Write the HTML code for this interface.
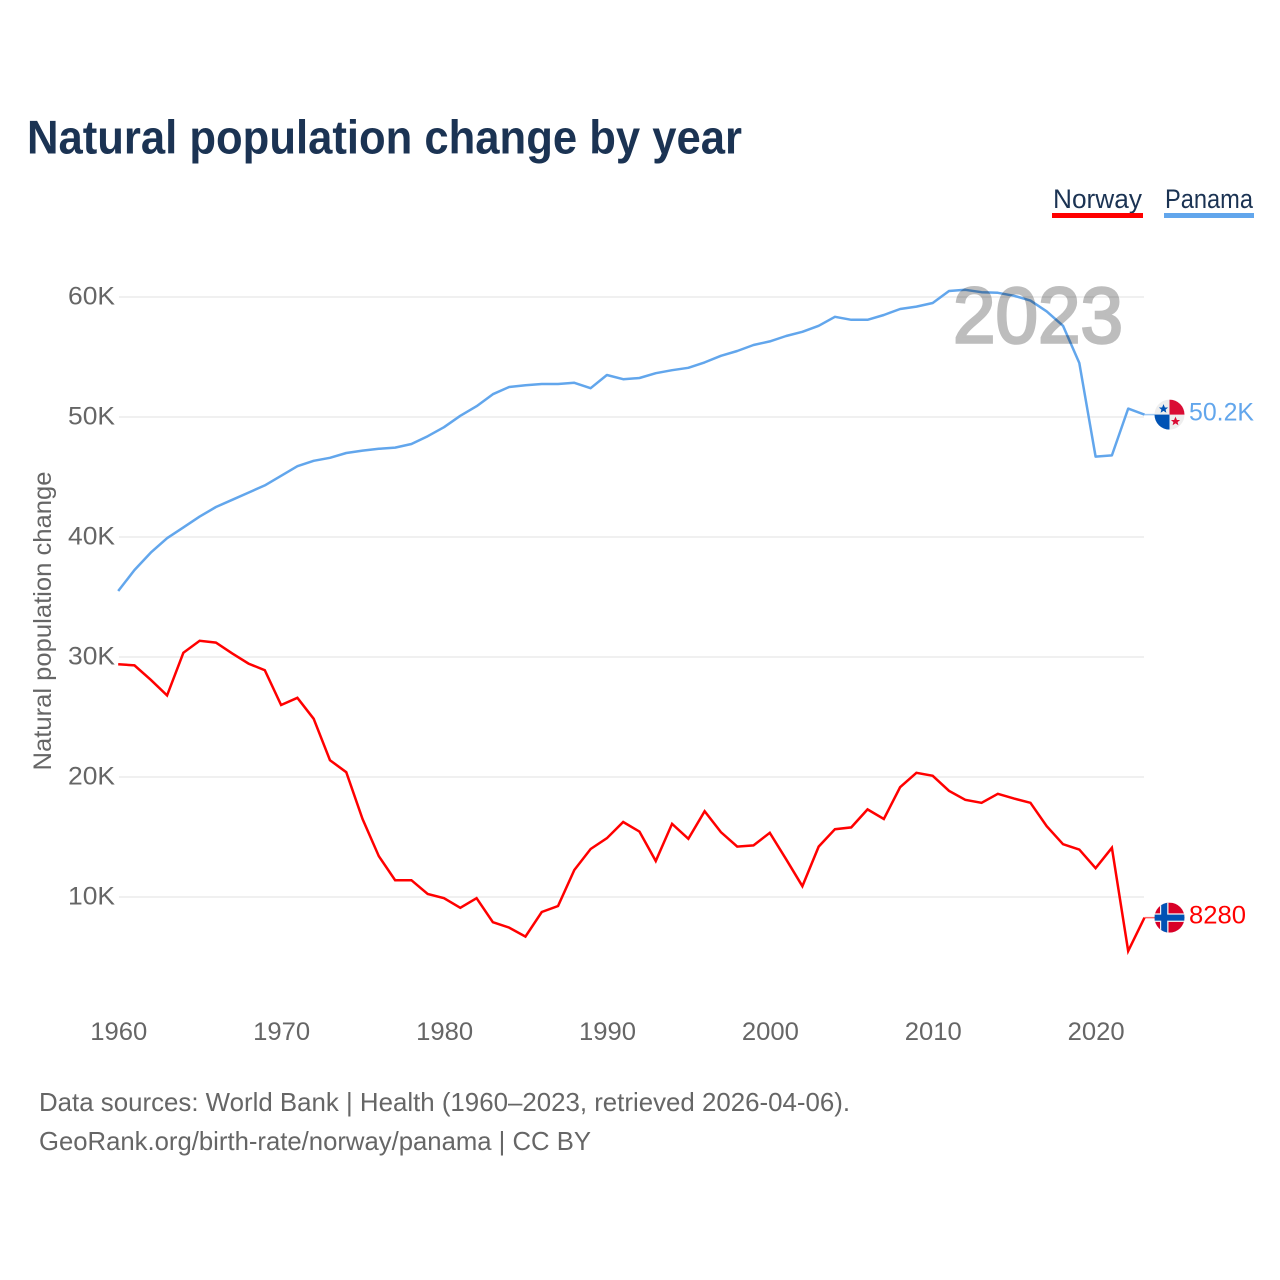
<!DOCTYPE html>
<html lang="en">
<head>
<meta charset="utf-8">
<title>Natural population change by year</title>
<style>
html,body{margin:0;padding:0;background:#fff}
svg{display:block}
text{font-family:"Liberation Sans",sans-serif}
</style>
</head>
<body>
<svg id="chart" xmlns="http://www.w3.org/2000/svg" width="1280" height="1280" viewBox="0 0 1280 1280">
  <defs>
    <clipPath id="flag-clip"><circle cx="0" cy="0" r="15"/></clipPath>
  </defs>
  <rect width="1280" height="1280" fill="#fff"/>
  <text x="27" y="153.5" font-size="47" font-weight="700" fill="#1b3353" textLength="715" lengthAdjust="spacingAndGlyphs">Natural population change by year</text>

  <g>
    <g>
      <text x="1053" y="208" font-size="27" fill="#1b3353" textLength="89" lengthAdjust="spacingAndGlyphs">Norway</text>
      <rect x="1052" y="213" width="91" height="5" fill="#ff0000"/>
    </g>
    <g>
      <text x="1165" y="208" font-size="27" fill="#1b3353" textLength="88" lengthAdjust="spacingAndGlyphs">Panama</text>
      <rect x="1164" y="213" width="90" height="5" fill="#62a6ec"/>
    </g>
  </g>

  <g id="grid"></g>
  <g id="y-ticks"></g>
  <g id="x-ticks"></g>
  <text transform="translate(51 621) rotate(-90)" text-anchor="middle" font-size="25" fill="#666" textLength="299" lengthAdjust="spacingAndGlyphs">Natural population change</text>

  <g id="series"></g>

  <text id="year-watermark" x="953" y="342.5" font-size="79" font-weight="400" fill="#bdbdbd" stroke="#bdbdbd" stroke-width="2.6" textLength="170" lengthAdjust="spacingAndGlyphs" style="mix-blend-mode:multiply">2023</text>

  <g id="flag-panama">
    <g clip-path="url(#flag-clip)">
      <rect x="-15" y="-15" width="30" height="30" fill="#eeeeee"/>
      <rect x="0" y="-15" width="15" height="15" fill="#da0d35"/>
      <rect x="-15" y="0" width="15" height="15" fill="#0052b4"/>
      <polygon fill="#0052b4" points="-6,-10.5 -4.6,-7.1 -1.4,-7.1 -3.9,-5 -3.1,-1.9 -6,-3.7 -8.9,-1.9 -8.1,-5 -10.6,-7.1 -7.4,-7.1"/>
      <polygon fill="#da0d35" points="6,2 7.4,5.4 10.6,5.4 8.1,7.5 8.9,10.6 6,8.8 3.1,10.6 3.9,7.5 1.4,5.4 4.6,5.4"/>
    </g>
  </g>
  <g id="flag-norway">
    <g clip-path="url(#flag-clip)">
      <rect x="-15" y="-15" width="30" height="30" fill="#d80027"/>
      <rect x="-9.5" y="-15" width="8.5" height="30" fill="#f0f0f0"/>
      <rect x="-15" y="-4.3" width="30" height="8.6" fill="#f0f0f0"/>
      <rect x="-8.3" y="-15" width="6" height="30" fill="#0052b4"/>
      <rect x="-15" y="-3" width="30" height="6" fill="#0052b4"/>
    </g>
  </g>
  <g id="end-labels"></g>

  <text x="39" y="1111" font-size="26" fill="#666" textLength="811" lengthAdjust="spacingAndGlyphs">Data sources: World Bank | Health (1960–2023, retrieved 2026-04-06).</text>
  <text x="39" y="1150" font-size="26" fill="#666" textLength="552" lengthAdjust="spacingAndGlyphs">GeoRank.org/birth-rate/norway/panama | CC BY</text>
</svg>
<script>
const years = [1960,1961,1962,1963,1964,1965,1966,1967,1968,1969,1970,1971,1972,1973,1974,1975,1976,1977,1978,1979,1980,1981,1982,1983,1984,1985,1986,1987,1988,1989,1990,1991,1992,1993,1994,1995,1996,1997,1998,1999,2000,2001,2002,2003,2004,2005,2006,2007,2008,2009,2010,2011,2012,2013,2014,2015,2016,2017,2018,2019,2020,2021,2022,2023];
const panamaValues = [35500,37250,38700,39900,40800,41700,42500,43100,43700,44300,45100,45900,46350,46600,47000,47200,47350,47450,47750,48400,49150,50100,50900,51900,52500,52650,52750,52750,52850,52400,53500,53150,53250,53650,53900,54100,54550,55100,55500,56000,56300,56750,57100,57600,58350,58100,58100,58500,59000,59200,59500,60500,60600,60400,60350,60100,59700,58800,57600,54500,46700,46800,50700,50200];
const norwayValues = [29400,29300,28100,26800,30350,31350,31200,30300,29450,28900,26000,26600,24850,21400,20400,16500,13400,11400,11400,10250,9900,9100,9900,7900,7450,6700,8750,9250,12250,14000,14900,16250,15450,13000,16100,14850,17150,15400,14200,14300,15350,13150,10900,14200,15650,15800,17300,16500,19150,20350,20100,18850,18100,17850,18600,18200,17850,15900,14400,13950,12400,14100,5500,8280];
const yTickValues = [10000,20000,30000,40000,50000,60000];
const yTickLabels = ["10K","20K","30K","40K","50K","60K"];
const xTickYears = [1960,1970,1980,1990,2000,2010,2020];
const endLabels = ["8280","50.2K"];

const NS = "http://www.w3.org/2000/svg";
const xScale = function (year) { return 118.2 + (year - 1960) * 16.29; };
const yScale = function (value) { return 1017 - value * 0.012; };

function make(tag, parentId, attrs, content) {
  const el = document.createElementNS(NS, tag);
  Object.keys(attrs).forEach(function (k) { el.setAttribute(k, attrs[k]); });
  if (content !== undefined) el.textContent = content;
  document.getElementById(parentId).appendChild(el);
  return el;
}

yTickValues.forEach(function (v, i) {
  const line = make("line", "grid", {x1: 119, x2: 1144, y1: yScale(v), y2: yScale(v), stroke: "#f0f0f0", "stroke-width": 2});
  
  
  const label = make("text", "y-ticks", {x: 115, y: yScale(v) + 7.5, "text-anchor": "end", "font-size": 25, fill: "#666", textLength: 47, lengthAdjust: "spacingAndGlyphs"}, yTickLabels[i]);
  
  
});

xTickYears.forEach(function (yr) {
  const label = make("text", "x-ticks", {x: xScale(yr) + 0.6, y: 1040, "text-anchor": "middle", "font-size": 25, fill: "#666", textLength: 57, lengthAdjust: "spacingAndGlyphs"}, String(yr));
  
  
});

function linePath(values) {
  return values.map(function (v, i) {
    return (i ? "L" : "M") + xScale(years[i]).toFixed(2) + " " + yScale(v).toFixed(2);
  }).join(" ");
}

const norwayLine = make("path", "series", {d: linePath(norwayValues), fill: "none", stroke: "#ff0000", "stroke-width": 2.5, "stroke-linejoin": "miter"});



const panamaLine = make("path", "series", {d: linePath(panamaValues), fill: "none", stroke: "#62a6ec", "stroke-width": 2.5, "stroke-linejoin": "round"});



const lastX = xScale(years[years.length - 1]);
const norwayLastY = yScale(norwayValues[norwayValues.length - 1]);
const panamaLastY = yScale(panamaValues[panamaValues.length - 1]);

const norwayConnector = make("line", "series", {x1: lastX, x2: lastX + 12, y1: norwayLastY, y2: norwayLastY, stroke: "#ff0000", "stroke-width": 1.5, opacity: 0.6});



const panamaConnector = make("line", "series", {x1: lastX, x2: lastX + 12, y1: panamaLastY, y2: panamaLastY, stroke: "#62a6ec", "stroke-width": 1.5, opacity: 0.6});



document.getElementById("flag-norway").setAttribute("transform", "translate(1169.5 " + norwayLastY + ")");
document.getElementById("flag-panama").setAttribute("transform", "translate(1169.5 " + panamaLastY + ")");

const norwayEnd = make("text", "end-labels", {x: 1189, y: norwayLastY + 6, "font-size": 25, fill: "#ff0000", textLength: 57, lengthAdjust: "spacingAndGlyphs"}, endLabels[0]);



const panamaEnd = make("text", "end-labels", {x: 1189, y: panamaLastY + 6, "font-size": 25, fill: "#62a6ec", textLength: 65, lengthAdjust: "spacingAndGlyphs"}, endLabels[1]);


</script>
</body>
</html>
